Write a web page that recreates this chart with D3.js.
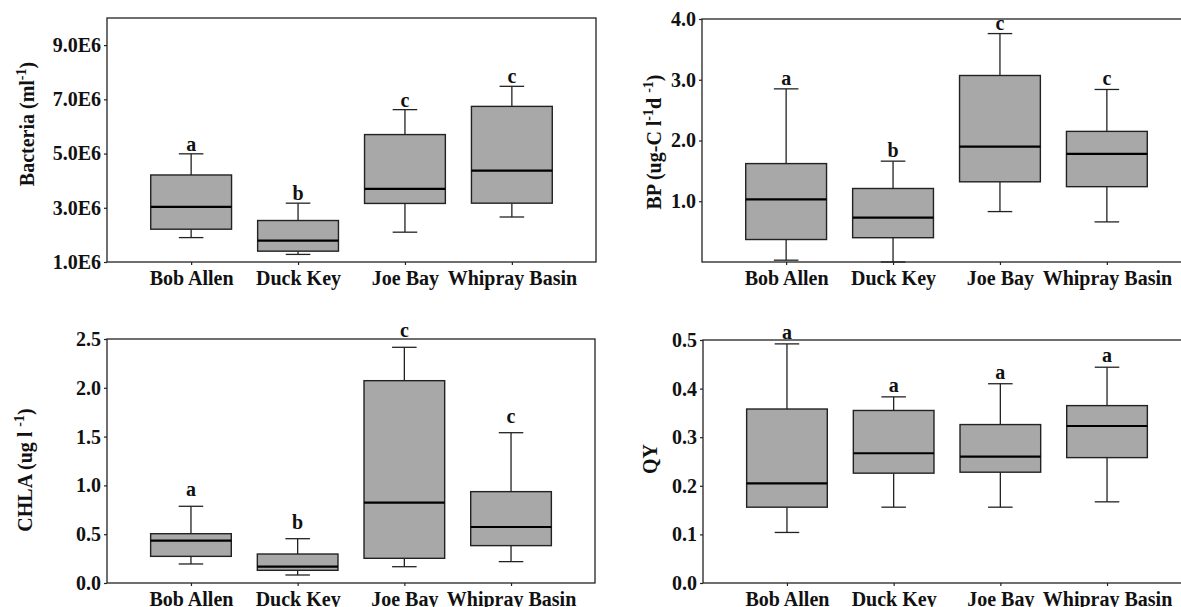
<!DOCTYPE html>
<html>
<head>
<meta charset="utf-8">
<script src="https://cdn.jsdelivr.net/npm/d3@7"></script>
<style>
  body { margin: 0; background: #fff; }
  text { font-family: "Liberation Serif", "Times New Roman", serif; font-weight: bold; fill: #111; }
</style>
</head>
<body>
<svg id="chart" width="1181" height="607"></svg>
<script>
// sites on the x axis
const sites = ["Bob Allen", "Duck Key", "Joe Bay", "Whipray Basin"];

// five number summaries per site: [lower whisker, q1, median, q3, upper whisker]
const bacteriaBox = [
  [1.90e6, 2.21e6, 3.03e6, 4.21e6, 4.99e6],
  [1.28e6, 1.40e6, 1.79e6, 2.53e6, 3.17e6],
  [2.10e6, 3.16e6, 3.70e6, 5.70e6, 6.62e6],
  [2.66e6, 3.17e6, 4.37e6, 6.74e6, 7.48e6]
];
const bpBox = [
  [0.03, 0.37, 1.03, 1.62, 2.85],
  [0.00, 0.40, 0.73, 1.21, 1.66],
  [0.83, 1.32, 1.90, 3.07, 3.76],
  [0.66, 1.24, 1.78, 2.15, 2.84]
];
const chlaBox = [
  [0.195, 0.273, 0.434, 0.505, 0.786],
  [0.082, 0.130, 0.167, 0.297, 0.454],
  [0.167, 0.253, 0.823, 2.073, 2.415],
  [0.219, 0.383, 0.574, 0.936, 1.540]
];
const qyBox = [
  [0.104, 0.156, 0.205, 0.358, 0.492],
  [0.156, 0.226, 0.267, 0.355, 0.383],
  [0.156, 0.228, 0.260, 0.326, 0.410],
  [0.167, 0.258, 0.323, 0.365, 0.444]
];

// significance letters
const bacteriaLetters = ["a", "b", "c", "c"];
const bpLetters = ["a", "b", "c", "c"];
const chlaLetters = ["a", "b", "c", "c"];
const qyLetters = ["a", "a", "a", "a"];

// tick values
const bacteriaTicks = [1e6, 3e6, 5e6, 7e6, 9e6];
const bpTicks = [1, 2, 3, 4];
const chlaTicks = [0, 0.5, 1, 1.5, 2, 2.5];
const qyTicks = [0, 0.1, 0.2, 0.3, 0.4, 0.5];

const svg = d3.select("#chart");
const FS = 20;

const panels = [
  { box: bacteriaBox, letters: bacteriaLetters, ticks: bacteriaTicks, domain: [1e6, 10e6],
    fmt: d => (d / 1e6).toFixed(1) + "E6",
    left: 107, top: 18, width: 489, height: 244, gap: 3,
    label: [["Bacteria (ml", 0], ["-1", 1], [")", 0]], labelX: 34, labelY: 124 },
  { box: bpBox, letters: bpLetters, ticks: bpTicks, domain: [0, 4],
    fmt: d3.format(".1f"),
    left: 702, top: 19, width: 489, height: 243, gap: 4,
    label: [["BP (ug-C l", 0], ["-1", 1], ["d ", 0], ["-1", 1], [")", 0]], labelX: 661, labelY: 142 },
  { box: chlaBox, letters: chlaLetters, ticks: chlaTicks, domain: [0, 2.5],
    fmt: d3.format(".1f"),
    left: 107, top: 339, width: 488, height: 244, gap: 10,
    label: [["CHLA (ug l ", 0], ["-1", 1], [")", 0]], labelX: 32, labelY: 470 },
  { box: qyBox, letters: qyLetters, ticks: qyTicks, domain: [0, 0.5],
    fmt: d3.format(".1f"),
    left: 703, top: 340, width: 488, height: 243, gap: 5,
    label: [["QY", 0]], labelX: 657, labelY: 459 }
];

panels.forEach(p => {
  const g = svg.append("g");
  const x = d3.scalePoint().domain(sites).range([p.left, p.left + p.width]).padding(0.787);
  const y = d3.scaleLinear().domain(p.domain).range([p.top + p.height, p.top]);
  const boxW = x.step() * 0.756;
  const capW = x.step() * 0.23;

  // frame
  g.append("rect")
    .attr("x", p.left).attr("y", p.top)
    .attr("width", p.width).attr("height", p.height)
    .attr("fill", "none").attr("stroke", "#222").attr("stroke-width", 1.3);

  // y axis
  const ya = g.append("g")
    .attr("transform", `translate(${p.left},0)`)
    .call(d3.axisLeft(y).tickValues(p.ticks).tickFormat(p.fmt).tickSize(3).tickPadding(3));
  ya.select(".domain").remove();
  ya.selectAll("line").attr("stroke", "#222").attr("stroke-width", 1.2);
  ya.selectAll("text").attr("font-size", FS).attr("font-family", null).attr("fill", "#111");

  // x axis
  const xa = g.append("g")
    .attr("transform", `translate(0,${p.top + p.height})`)
    .call(d3.axisBottom(x).tickSize(3));
  xa.select(".domain").remove();
  xa.selectAll("line").attr("stroke", "#222").attr("stroke-width", 1.2);
  xa.selectAll("text").attr("font-size", FS).attr("font-family", null).attr("fill", "#111")
    .attr("y", 23).attr("dy", 0);

  // boxes
  const b = g.append("g").selectAll("g")
    .data(p.box.map((s, i) => ({ site: sites[i], s: s, letter: p.letters[i] })))
    .join("g");

  b.append("line")
    .attr("x1", d => x(d.site)).attr("x2", d => x(d.site))
    .attr("y1", d => y(d.s[3])).attr("y2", d => y(d.s[4]))
    .attr("stroke", "#222").attr("stroke-width", 1.3);
  b.append("line")
    .attr("x1", d => x(d.site)).attr("x2", d => x(d.site))
    .attr("y1", d => y(d.s[0])).attr("y2", d => y(d.s[1]))
    .attr("stroke", "#222").attr("stroke-width", 1.3);
  b.selectAll(".cap")
    .data(d => [d.s[0], d.s[4]].map(v => ({ site: d.site, v: v })))
    .join("line").attr("class", "cap")
    .attr("x1", d => x(d.site) - capW / 2).attr("x2", d => x(d.site) + capW / 2)
    .attr("y1", d => y(d.v)).attr("y2", d => y(d.v))
    .attr("stroke", "#222").attr("stroke-width", 1.3);
  b.append("rect")
    .attr("x", d => x(d.site) - boxW / 2).attr("width", boxW)
    .attr("y", d => y(d.s[3])).attr("height", d => y(d.s[1]) - y(d.s[3]))
    .attr("fill", "#a8a8a9").attr("stroke", "#222").attr("stroke-width", 1.4);
  b.append("line")
    .attr("x1", d => x(d.site) - boxW / 2).attr("x2", d => x(d.site) + boxW / 2)
    .attr("y1", d => y(d.s[2])).attr("y2", d => y(d.s[2]))
    .attr("stroke", "#000").attr("stroke-width", 2.2);
  b.append("text")
    .attr("x", d => x(d.site))
    .attr("y", d => Math.max(y(d.s[4]) - p.gap, p.top - 2))
    .attr("text-anchor", "middle").attr("font-size", FS)
    .text(d => d.letter);

  // y label with superscripts
  const t = g.append("text")
    .attr("transform", `translate(${p.labelX},${p.labelY}) rotate(-90)`)
    .attr("text-anchor", "middle").attr("font-size", FS);
  let raised = 0;
  p.label.forEach(([str, sup]) => {
    const ts = t.append("tspan").text(str);
    if (sup && !raised) { ts.attr("dy", -8).attr("font-size", 14); raised = 1; }
    else if (sup) { ts.attr("font-size", 14); }
    else if (raised) { ts.attr("dy", 8); raised = 0; }
  });
});
</script>
</body>
</html>
